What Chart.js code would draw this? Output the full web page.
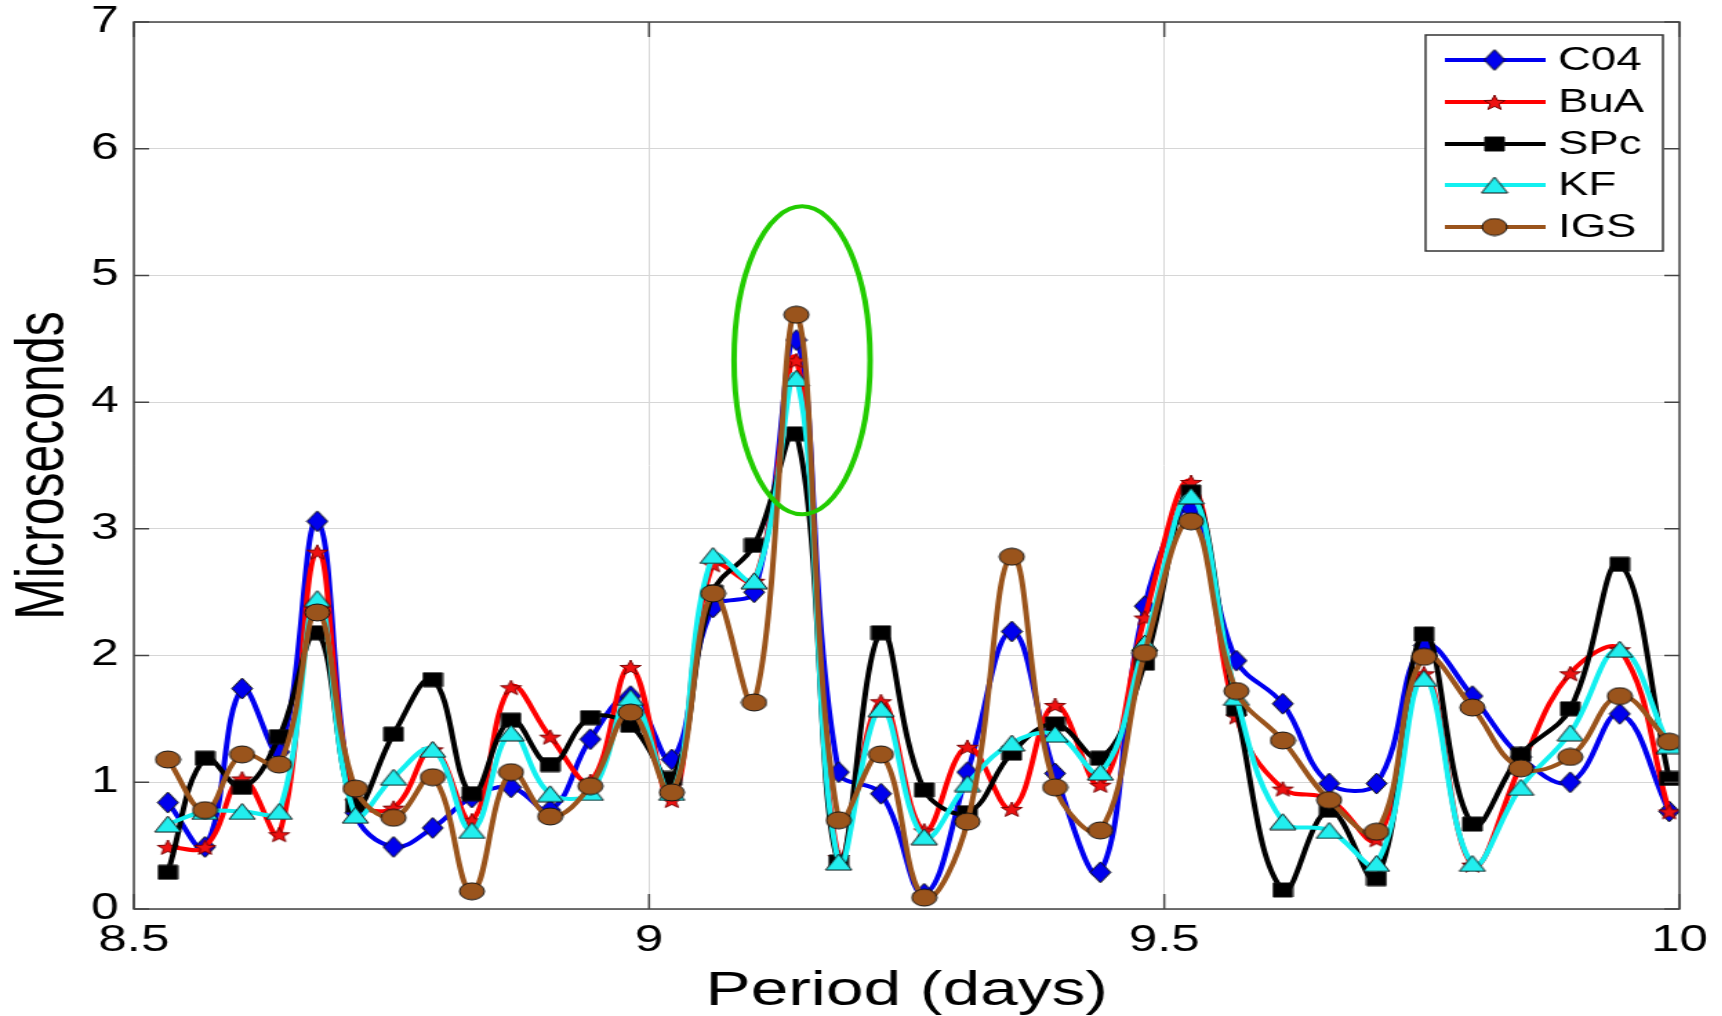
<!DOCTYPE html>
<html>
<head>
<meta charset="utf-8">
<script src="https://cdn.jsdelivr.net/npm/chart.js@4.4.1/dist/chart.umd.min.js"></script>
<style>
    html, body { margin: 0; padding: 0; background: #fff; overflow: hidden; }
    /* the source figure is stretched sideways, so the whole canvas is too */
    #wrap { width: 1248px; height: 1016px; transform: scaleX(1.38); transform-origin: 0 0; }
</style>
</head>
<body>
<div id="wrap"><canvas id="chart" width="1248" height="1016"></canvas></div>
<script>
// periods (days) where the spectra are sampled
const periods = [8.533, 8.569, 8.605, 8.641, 8.678, 8.715, 8.752, 8.790, 8.828, 8.866, 8.904, 8.943,
    8.982, 9.022, 9.062, 9.102, 9.143, 9.184, 9.225, 9.267, 9.309, 9.352, 9.394, 9.438,
    9.481, 9.526, 9.570, 9.615, 9.660, 9.706, 9.752, 9.799, 9.846, 9.894, 9.942, 9.990];

const c04 = [0.84, 0.49, 1.74, 1.24, 3.06, 0.76, 0.49, 0.64, 0.88, 0.96, 0.78, 1.34,
    1.68, 1.18, 2.38, 2.50, 4.49, 1.08, 0.91, 0.12, 1.08, 2.19, 1.07, 0.29,
    2.39, 3.16, 1.96, 1.62, 0.99, 0.99, 2.08, 1.68, 1.20, 1.00, 1.54, 0.77];
const bua = [0.49, 0.49, 1.03, 0.59, 2.82, 0.85, 0.80, 1.26, 0.70, 1.75, 1.36, 1.01,
    1.91, 0.86, 2.72, 2.59, 4.33, 0.41, 1.64, 0.62, 1.28, 0.79, 1.61, 0.98,
    2.30, 3.37, 1.52, 0.95, 0.87, 0.55, 1.86, 0.35, 1.13, 1.86, 2.05, 0.77];
const spc = [0.29, 1.19, 0.96, 1.36, 2.18, 0.82, 1.38, 1.81, 0.91, 1.49, 1.14, 1.51,
    1.45, 1.03, 2.50, 2.87, 3.75, 0.37, 2.18, 0.94, 0.76, 1.23, 1.46, 1.19,
    1.94, 3.29, 1.58, 0.15, 0.78, 0.24, 2.17, 0.67, 1.22, 1.58, 2.72, 1.03];
const kf = [0.67, 0.77, 0.77, 0.77, 2.45, 0.74, 1.04, 1.26, 0.62, 1.39, 0.91, 0.92,
    1.67, 0.92, 2.79, 2.59, 4.19, 0.37, 1.58, 0.57, 0.99, 1.31, 1.38, 1.08,
    2.10, 3.26, 1.67, 0.69, 0.62, 0.36, 1.82, 0.36, 0.96, 1.39, 2.05, 1.29];
const igs = [1.18, 0.78, 1.22, 1.14, 2.34, 0.95, 0.72, 1.04, 0.14, 1.08, 0.73, 0.97,
    1.55, 0.92, 2.49, 1.63, 4.69, 0.70, 1.22, 0.09, 0.69, 2.78, 0.96, 0.62,
    2.02, 3.06, 1.72, 1.33, 0.86, 0.61, 1.99, 1.59, 1.11, 1.20, 1.68, 1.32];

const seriesNames = ['C04', 'BuA', 'SPc', 'KF', 'IGS'];
const xTicks = [8.5, 9, 9.5, 10];
const yTicks = [0, 1, 2, 3, 4, 5, 6, 7];

// highlighted peak (data units)
const ring = { x: 9.1485, y: 4.33, dx: 0.066, dy: 1.215 };

const FONT = 'Liberation Sans, Arial, Helvetica, sans-serif';

// marker glyphs drawn on small canvases, used as pointStyle
function marker(shape, fill, w, h) {
    const c = document.createElement('canvas');
    c.width = w + 2; c.height = h + 2;
    const g = c.getContext('2d');
    const cx = c.width / 2, cy = c.height / 2;
    g.beginPath();
    if (shape === 'diamond') {
        g.moveTo(cx, 1); g.lineTo(c.width - 1, cy); g.lineTo(cx, c.height - 1); g.lineTo(1, cy);
    } else if (shape === 'square') {
        g.rect(1, 1, w, h);
    } else if (shape === 'triangle') {
        g.moveTo(cx, 1); g.lineTo(c.width - 1, c.height - 1); g.lineTo(1, c.height - 1);
    } else if (shape === 'ellipse') {
        g.ellipse(cx, cy, w / 2, h / 2, 0, 0, Math.PI * 2);
    } else if (shape === 'star') {
        for (let i = 0; i < 10; i++) {
            const r = i % 2 === 0 ? 1 : 0.42;
            const a = -Math.PI / 2 + i * Math.PI / 5;
            const px = cx + Math.cos(a) * r * w / 2;
            const py = cy + 1 + Math.sin(a) * r * h / 2;
            if (i === 0) g.moveTo(px, py); else g.lineTo(px, py);
        }
    }
    g.closePath();
    g.fillStyle = fill;
    g.fill();
    g.lineWidth = 1;
    g.strokeStyle = shape === 'star' ? '#7a0000' : '#111';
    g.stroke();
    return c;
}

const styles = [
    { line: '#0000f0', mark: marker('diamond', '#0000ee', 15, 21) },
    { line: '#ff0000', mark: marker('star', '#ee1111', 16, 16) },
    { line: '#000000', mark: marker('square', '#000000', 14, 14) },
    { line: '#12f0f0', mark: marker('triangle', '#22eeee', 19, 16) },
    { line: '#9a541c', mark: marker('ellipse', '#9a541c', 18, 17) }
];

const values = [c04, bua, spc, kf, igs];

const datasets = values.map((vals, i) => ({
    label: seriesNames[i],
    data: periods.map((p, j) => ({ x: p, y: vals[j] })),
    borderColor: styles[i].line,
    backgroundColor: styles[i].line,
    borderWidth: 4,
    tension: 0.4,
    pointStyle: styles[i].mark,
    pointRadius: 7,
    order: values.length - i
}));

// box round the axes, inward ticks, legend box and the green ring
const decorations = {
    id: 'decorations',
    afterDatasetsDraw(chart) {
        const ctx = chart.ctx;
        const a = chart.chartArea;
        const xs = chart.scales.x, ys = chart.scales.y;
        ctx.save();
        // green ring
        const cx = xs.getPixelForValue(ring.x), cy = ys.getPixelForValue(ring.y);
        const rx = xs.getPixelForValue(ring.x + ring.dx) - cx;
        const ry = cy - ys.getPixelForValue(ring.y + ring.dy);
        ctx.beginPath();
        ctx.ellipse(cx, cy, rx, ry, 0, 0, Math.PI * 2);
        ctx.strokeStyle = '#22cc00';
        ctx.lineWidth = 4;
        ctx.stroke();

        // frame
        ctx.strokeStyle = '#444';
        ctx.lineWidth = 1.5;
        ctx.strokeRect(a.left, a.top, a.right - a.left, a.bottom - a.top);
        ctx.beginPath();
        yTicks.forEach(v => {
            const y = ys.getPixelForValue(v);
            ctx.moveTo(a.left, y); ctx.lineTo(a.left + 11, y);
            ctx.moveTo(a.right, y); ctx.lineTo(a.right - 11, y);
        });
        xTicks.forEach(v => {
            const x = xs.getPixelForValue(v);
            ctx.moveTo(x, a.bottom); ctx.lineTo(x, a.bottom - 15);
            ctx.moveTo(x, a.top); ctx.lineTo(x, a.top + 15);
        });
        ctx.stroke();

        // legend
        const lx = 1033, ly = 35, lw = 172, lh = 216;
        ctx.fillStyle = '#fff';
        ctx.fillRect(lx, ly, lw, lh);
        ctx.strokeStyle = '#333';
        ctx.lineWidth = 1.5;
        ctx.strokeRect(lx, ly, lw, lh);
        const rows = [60, 102, 144, 185, 227];
        ctx.font = '33px ' + FONT;
        ctx.textBaseline = 'middle';
        ctx.textAlign = 'left';
        seriesNames.forEach((name, i) => {
            const y = rows[i];
            ctx.beginPath();
            ctx.moveTo(1047, y); ctx.lineTo(1120, y);
            ctx.strokeStyle = styles[i].line;
            ctx.lineWidth = 4;
            ctx.stroke();
            const m = styles[i].mark;
            ctx.drawImage(m, 1083 - m.width / 2, y - m.height / 2);
            ctx.fillStyle = '#000';
            ctx.fillText(name, 1129, y + 1);
        });
        ctx.restore();
    }
};

new Chart(document.getElementById('chart'), {
    type: 'line',
    data: { datasets },
    options: {
        responsive: false,
        animation: false,
        layout: { padding: { top: 22, right: 31, left: 0, bottom: 0 } },
        plugins: { legend: { display: false }, tooltip: { enabled: false } },
        scales: {
            x: {
                type: 'linear',
                min: 8.5,
                max: 10,
                afterBuildTicks: s => { s.ticks = xTicks.map(v => ({ value: v })); },
                afterFit: s => { s.height = 107; s.paddingLeft = 0; s.paddingRight = 0; },
                grid: { color: '#d6d6d6', borderDash: [2, 3], drawTicks: false },
                border: { display: false },
                ticks: {
                    color: '#000', padding: 10, maxRotation: 0,
                    font: { family: FONT, size: 37 },
                    callback: v => String(v)
                },
                title: {
                    display: true, text: 'Period (days)', color: '#000',
                    font: { family: FONT, size: 49, lineHeight: 1.0 },
                    padding: { top: 0, bottom: 0 }
                }
            },
            y: {
                min: 0,
                max: 7,
                afterBuildTicks: s => { s.ticks = yTicks.map(v => ({ value: v })); },
                afterFit: s => { s.width = 97; s.paddingTop = 0; s.paddingBottom = 0; },
                grid: { color: '#d6d6d6', borderDash: [2, 3], drawTicks: false },
                border: { display: false },
                ticks: { color: '#000', padding: 11, font: { family: FONT, size: 36 } },
                title: {
                    display: true, text: 'Microseconds', color: '#000',
                    font: { family: FONT, size: 50, lineHeight: 1.2 },
                    padding: { top: 2, bottom: 0 }
                }
            }
        }
    },
    plugins: [decorations]
});
</script>
</body>
</html>
